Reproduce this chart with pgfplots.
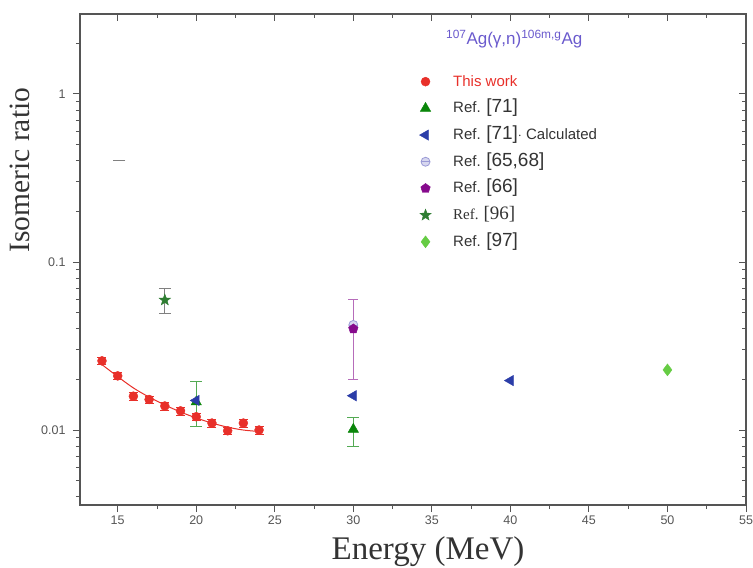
\documentclass[border=0pt]{standalone}
\usepackage{fontspec}
\setmainfont{Liberation Serif}
\setsansfont{Liberation Sans}
\usepackage{pgfplots}
\pgfplotsset{compat=1.18}
\definecolor{tw}{HTML}{E8302A}
\definecolor{gtri}{HTML}{0A860A}
\definecolor{btri}{HTML}{2B3DA8}
\definecolor{lav}{HTML}{9A9AD6}
\definecolor{purp}{HTML}{860A8C}
\definecolor{gstar}{HTML}{2E7D32}
\definecolor{lgreen}{HTML}{66CC44}
\definecolor{ttl}{HTML}{6A5ACD}
\definecolor{axc}{HTML}{555555}
\definecolor{txt}{HTML}{333333}
\newcommand{\br}[1]{{\fontsize{19}{19}\selectfont #1}}
\pgfdeclareplotmark{ominus}{%
  \pgfpathcircle{\pgfpointorigin}{\pgfplotmarksize}\pgfusepathqfillstroke
  \pgfpathmoveto{\pgfqpoint{-\pgfplotmarksize}{0pt}}%
  \pgfpathlineto{\pgfqpoint{\pgfplotmarksize}{0pt}}\pgfusepathqstroke}
\pgfdeclareplotmark{fstar}{%
  \pgfpathmoveto{\pgfpointpolar{90}{\pgfplotmarksize}}%
  \pgfpathlineto{\pgfpointpolar{126}{0.42\pgfplotmarksize}}%
  \pgfpathlineto{\pgfpointpolar{162}{\pgfplotmarksize}}%
  \pgfpathlineto{\pgfpointpolar{198}{0.42\pgfplotmarksize}}%
  \pgfpathlineto{\pgfpointpolar{234}{\pgfplotmarksize}}%
  \pgfpathlineto{\pgfpointpolar{270}{0.42\pgfplotmarksize}}%
  \pgfpathlineto{\pgfpointpolar{306}{\pgfplotmarksize}}%
  \pgfpathlineto{\pgfpointpolar{342}{0.42\pgfplotmarksize}}%
  \pgfpathlineto{\pgfpointpolar{18}{\pgfplotmarksize}}%
  \pgfpathlineto{\pgfpointpolar{54}{0.42\pgfplotmarksize}}%
  \pgfpathclose\pgfusepathqfillstroke}
\begin{document}
\begin{tikzpicture}
\begin{semilogyaxis}[name=main, scale only axis, width=666pt, height=491pt,
  xmin=12.6, xmax=55, ymin=0.00358, ymax=2.99,
  xtick={15,20,...,55}, minor x tick num=1,
  ytick={0.01,0.1,1},
  minor ytick={0.004,0.005,0.006,0.007,0.008,0.009,0.02,0.03,0.04,0.05,0.06,0.07,0.08,0.09,0.2,0.3,0.4,0.5,0.6,0.7,0.8,0.9,2},
  axis line style={axc, line width=1.1pt},
  tick style={axc, line width=0.9pt},
  major tick length=7pt, minor tick length=4pt,
  tick align=outside, xtick pos=bottom, ytick pos=left,
  yticklabels={0.01,0.1,1},
  xticklabels={15,20,25,30,35,40,45,50,55},
  tick label style={font=\sffamily\fontsize{12.5}{12.5}\selectfont, text=axc},
  yticklabel style={xshift=-4pt},
  xlabel={Energy (MeV)}, ylabel={Isomeric ratio},
  label style={text=txt},
  xlabel style={font=\rmfamily\fontsize{33}{33}\selectfont, yshift=-5pt, xshift=15pt},
  ylabel style={font=\rmfamily\fontsize{29.5}{29.5}\selectfont, at={(rel axis cs:0,0.682)}, anchor=center, yshift=60pt},
  legend style={at={(rel axis cs:0.505,0.884)}, anchor=north west, draw=none, fill=none,
    font=\sffamily\fontsize{15}{15}\selectfont, text=txt, row sep=9.7pt, column sep=20pt,
    nodes={inner ysep=0pt, text height=13pt, text depth=4pt}},
  legend cell align=left,
]
% fit curve
\addplot[tw, line width=1pt, smooth, forget plot] coordinates {
 (14,0.0245) (15,0.0208) (16,0.0178) (17,0.0157) (18,0.0141) (19,0.0128)
 (20,0.0118) (21,0.0110) (22,0.0104) (23,0.0100) (24,0.0098)};
% This work
\addplot[only marks, mark=*, mark size=4.5pt, color=tw,
  error bars/.cd, y dir=both, y explicit] coordinates {
 (14,0.0258) +- (0,0.0012) (15,0.0210) +- (0,0.001) (16,0.0159) +- (0,0.0008)
 (17,0.0152) +- (0,0.0008) (18,0.0139) +- (0,0.0007) (19,0.0130) +- (0,0.0007)
 (20,0.0120) +- (0,0.0006) (21,0.0110) +- (0,0.0006) (22,0.0099) +- (0,0.0005)
 (23,0.0110) +- (0,0.0006) (24,0.0100) +- (0,0.0005)};
\addlegendentry{\textcolor{tw}{This work}}
% Ref 71
\addplot[only marks, mark=triangle*, mark size=6pt, color=gtri,
  error bars/.cd, y dir=both, y explicit, error bar style={color=gtri!70!white, line width=0.8pt}] coordinates {
 (20,0.0147) += (0,0.0047) -= (0,0.0042)
 (30,0.0101) += (0,0.0019) -= (0,0.0021)};
\addlegendentry{Ref. \br{[71]}}
% Ref 71 calculated
\addplot[only marks, mark=triangle*, mark size=6pt, mark options={rotate=90}, color=btri] coordinates {
 (20,0.0150) (30,0.0160) (40,0.0197)};
\addlegendentry{Ref. \br{[71]}$\cdot$ Calculated}
% Ref 65,68
\addplot[only marks, mark=ominus, mark size=4.5pt, draw=lav, fill=lav!40, mark options={line width=0.8pt}] coordinates {
 (30,0.0422)};
\addlegendentry{Ref. \br{[65,68]}}
% Ref 66
\addplot[only marks, mark=pentagon*, mark size=5pt, color=purp,
  error bars/.cd, y dir=both, y explicit, error bar style={color=purp!60!white, line width=0.9pt}] coordinates {
 (30,0.0400) += (0,0.0200) -= (0,0.0200)};
\addlegendentry{Ref. \br{[66]}}
% Ref 96
\addplot[only marks, mark=fstar, mark size=6pt, color=gstar,
  error bars/.cd, y dir=both, y explicit, error bar style={color=gray, line width=0.8pt}] coordinates {
 (18,0.0594) += (0,0.0100) -= (0,0.0097)};
\addlegendentry{\rmfamily Ref. \br{[96]}}
% Ref 97
\addplot[only marks, mark=diamond*, mark size=6pt, color=lgreen] coordinates {
 (50,0.0228)};
\addlegendentry{Ref. \br{[97]}}
% stray dash
\addplot[only marks, mark=-, mark size=6pt, color=gray, forget plot, mark options={line width=0.8pt}] coordinates {(15.1,0.40)};
\node[font=\sffamily\fontsize{17}{17}\selectfont, text=ttl] at (rel axis cs:0.652,0.949)
  {\textsuperscript{107}Ag(γ,n)\textsuperscript{106m,g}Ag};
\end{semilogyaxis}
\begin{semilogyaxis}[at={(main.south west)}, anchor=south west,
  scale only axis, width=666pt, height=491pt,
  xmin=12.6, xmax=55, ymin=0.00358, ymax=2.99,
  xtick={15,20,...,55}, minor x tick num=1,
  ytick={0.01,0.1,1},
  minor ytick={0.004,0.005,0.006,0.007,0.008,0.009,0.02,0.03,0.04,0.05,0.06,0.07,0.08,0.09,0.2,0.3,0.4,0.5,0.6,0.7,0.8,0.9,2},
  axis line style={axc, line width=1.1pt},
  tick style={axc, line width=0.9pt},
  major tick length=7pt, minor tick length=4pt,
  tick align=inside, xtick pos=top, ytick pos=right,
  xticklabels={}, yticklabels={}]
\end{semilogyaxis}
\pgfresetboundingbox
\path ([xshift=-80pt,yshift=-63pt]main.south west) rectangle ([xshift=7pt,yshift=14pt]main.north east);
\end{tikzpicture}
\end{document}
